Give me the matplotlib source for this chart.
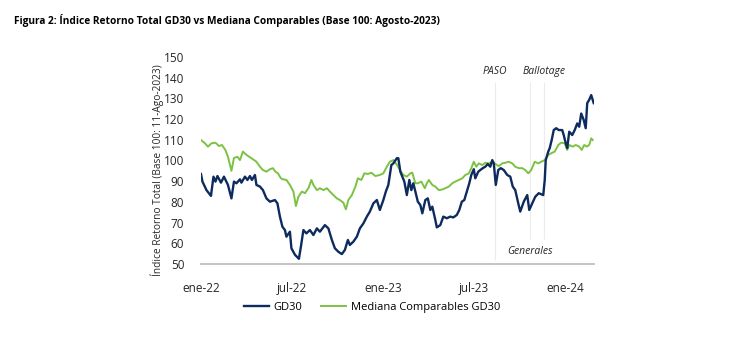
import pandas as pd
import matplotlib
matplotlib.use("Agg")
import matplotlib.pyplot as plt

plt.rcParams['font.family'] = ['Open Sans', 'DejaVu Sans']

# GD30 total return index
gd30_dates = [
    '2022-01-01', '2022-01-04', '2022-01-12', '2022-01-21', '2022-01-26', '2022-01-30',
    '2022-02-03', '2022-02-10', '2022-02-16', '2022-02-24', '2022-03-03', '2022-03-08',
    '2022-03-13', '2022-03-20', '2022-03-23', '2022-03-30', '2022-04-04', '2022-04-09',
    '2022-04-13', '2022-04-19', '2022-04-22', '2022-04-29', '2022-05-05', '2022-05-12',
    '2022-05-19', '2022-05-29', '2022-06-03', '2022-06-08', '2022-06-13', '2022-06-18',
    '2022-06-21', '2022-06-28', '2022-07-01', '2022-07-08', '2022-07-16', '2022-07-20',
    '2022-07-25', '2022-07-31', '2022-08-07', '2022-08-14', '2022-08-21', '2022-08-27',
    '2022-09-06', '2022-09-13', '2022-09-20', '2022-09-26', '2022-10-03', '2022-10-10',
    '2022-10-16', '2022-10-22', '2022-10-26', '2022-11-02', '2022-11-09', '2022-11-15',
    '2022-11-22', '2022-11-29', '2022-12-05', '2022-12-12', '2022-12-19', '2022-12-25',
    '2023-01-01', '2023-01-06', '2023-01-11', '2023-01-17', '2023-01-21', '2023-01-28',
    '2023-01-31', '2023-02-04', '2023-02-08', '2023-02-12', '2023-02-17', '2023-02-22',
    '2023-02-26', '2023-03-02', '2023-03-06', '2023-03-11', '2023-03-16', '2023-03-20',
    '2023-03-26', '2023-03-31', '2023-04-05', '2023-04-09', '2023-04-15', '2023-04-18',
    '2023-04-25', '2023-05-01', '2023-05-08', '2023-05-15', '2023-05-21', '2023-05-28',
    '2023-06-02', '2023-06-07', '2023-06-12', '2023-06-17', '2023-06-22', '2023-06-26',
    '2023-07-01', '2023-07-04', '2023-07-10', '2023-07-14', '2023-07-19', '2023-07-24',
    '2023-07-29', '2023-08-03', '2023-08-07', '2023-08-10', '2023-08-14', '2023-08-19',
    '2023-08-24', '2023-08-30', '2023-09-06', '2023-09-12', '2023-09-17', '2023-09-22',
    '2023-09-28', '2023-10-02', '2023-10-09', '2023-10-16', '2023-10-20', '2023-10-26',
    '2023-11-01', '2023-11-08', '2023-11-17', '2023-11-20', '2023-11-22', '2023-11-27',
    '2023-11-30', '2023-12-04', '2023-12-08', '2023-12-13', '2023-12-18', '2023-12-25',
    '2023-12-28', '2024-01-01', '2024-01-04', '2024-01-08', '2024-01-14', '2024-01-19',
    '2024-01-24', '2024-01-28', '2024-02-01', '2024-02-06', '2024-02-10', '2024-02-13',
    '2024-02-17', '2024-02-21', '2024-02-23', '2024-02-26',
]
gd30_vals = [
    93.5, 89.8, 85.7, 82.9, 92.2, 89.8,
    92.5, 89.3, 92.2, 88.2, 81.7, 89.8,
    89.0, 90.9, 89.3, 92.2, 90.6, 92.5,
    90.6, 93.0, 88.2, 87.4, 85.7, 81.7,
    80.1, 80.9, 79.3, 72.9, 68.0, 66.4,
    63.2, 65.6, 57.6, 54.5, 52.5, 58.4,
    66.4, 64.8, 66.4, 64.0, 67.2, 65.6,
    68.8, 67.2, 61.6, 57.6, 55.9, 54.8,
    56.8, 61.6, 59.2, 60.8, 63.2, 67.2,
    69.6, 72.9, 75.3, 79.3, 80.9, 76.1,
    80.9, 85.0, 88.2, 97.8, 98.6, 101.1,
    101.1, 94.6, 92.2, 89.8, 83.3, 90.6,
    85.7, 89.0, 85.0, 80.1, 78.5, 74.5,
    80.9, 81.7, 76.1, 77.7, 71.3, 67.7,
    68.8, 72.9, 72.1, 72.9, 72.5, 73.7,
    76.1, 80.1, 80.9, 85.0, 89.0, 93.0,
    95.8, 91.4, 94.6, 95.4, 96.3, 97.0,
    98.3, 97.0, 100.2, 98.6, 88.2, 95.4,
    96.3, 95.4, 93.0, 92.2, 87.4, 85.7,
    79.3, 75.3, 80.1, 83.3, 76.1, 79.3,
    82.5, 84.2, 83.3, 90.6, 100.2, 104.3,
    106.0, 110.0, 114.7, 115.6, 114.7, 114.7,
    112.3, 108.3, 106.0, 113.9, 112.3, 114.7,
    117.9, 116.3, 122.7, 119.6, 115.6, 127.7,
    129.3, 131.6, 130.0, 127.7,
]

# median of comparable bonds
comp_dates = [
    '2022-01-01', '2022-01-09', '2022-01-15', '2022-01-22', '2022-01-30', '2022-02-06',
    '2022-02-12', '2022-02-19', '2022-02-24', '2022-03-03', '2022-03-08', '2022-03-15',
    '2022-03-20', '2022-03-26', '2022-04-02', '2022-04-09', '2022-04-15', '2022-04-22',
    '2022-04-29', '2022-05-05', '2022-05-12', '2022-05-19', '2022-05-25', '2022-05-30',
    '2022-06-04', '2022-06-10', '2022-06-14', '2022-06-21', '2022-06-28', '2022-07-05',
    '2022-07-10', '2022-07-15', '2022-07-22', '2022-07-28', '2022-08-04', '2022-08-10',
    '2022-08-14', '2022-08-21', '2022-08-27', '2022-09-03', '2022-09-10', '2022-09-16',
    '2022-09-23', '2022-09-30', '2022-10-06', '2022-10-13', '2022-10-18', '2022-10-23',
    '2022-10-30', '2022-11-06', '2022-11-11', '2022-11-18', '2022-11-24', '2022-12-01',
    '2022-12-08', '2022-12-16', '2022-12-25', '2023-01-01', '2023-01-08', '2023-01-14',
    '2023-01-21', '2023-01-28', '2023-02-04', '2023-02-10', '2023-02-17', '2023-02-24',
    '2023-02-28', '2023-03-06', '2023-03-11', '2023-03-18', '2023-03-25', '2023-03-29',
    '2023-04-02', '2023-04-09', '2023-04-15', '2023-04-22', '2023-04-29', '2023-05-05',
    '2023-05-12', '2023-05-19', '2023-05-25', '2023-06-01', '2023-06-08', '2023-06-14',
    '2023-06-21', '2023-06-26', '2023-07-01', '2023-07-06', '2023-07-11', '2023-07-18',
    '2023-07-24', '2023-07-31', '2023-08-07', '2023-08-14', '2023-08-20', '2023-08-27',
    '2023-09-02', '2023-09-09', '2023-09-16', '2023-09-22', '2023-09-29', '2023-10-06',
    '2023-10-12', '2023-10-18', '2023-10-24', '2023-10-31', '2023-11-07', '2023-11-13',
    '2023-11-20', '2023-11-27', '2023-12-03', '2023-12-10', '2023-12-17', '2023-12-23',
    '2023-12-30', '2024-01-04', '2024-01-08', '2024-01-15', '2024-01-21', '2024-01-28',
    '2024-02-02', '2024-02-07', '2024-02-12', '2024-02-17', '2024-02-21', '2024-02-24',
]
comp_vals = [
    109.9, 108.3, 106.7, 108.3, 108.6, 107.0,
    107.5, 105.0, 101.8, 95.0, 101.2, 101.8,
    100.2, 104.3, 102.7, 101.6, 100.6, 99.4,
    97.0, 95.4, 94.6, 95.8, 96.3, 94.6,
    93.8, 91.4, 90.9, 90.6, 88.2, 85.0,
    78.0, 82.5, 85.0, 84.2, 86.6, 90.6,
    88.2, 85.7, 86.6, 85.7, 86.6, 85.0,
    83.3, 81.7, 80.9, 79.6, 76.4, 80.9,
    83.3, 87.4, 91.4, 90.6, 93.8, 93.5,
    94.1, 92.5, 93.0, 93.8, 97.0, 99.4,
    100.2, 98.0, 95.0, 93.0, 92.2, 93.8,
    94.1, 89.0, 89.0, 89.8, 86.6, 89.0,
    90.6, 88.2, 87.4, 85.7, 86.0, 86.6,
    87.4, 89.0, 89.8, 90.6, 91.4, 93.0,
    93.8, 96.3, 99.4, 97.0, 98.6, 97.8,
    98.9, 98.6, 99.4, 98.2, 97.3, 98.6,
    98.9, 99.4, 98.6, 97.0, 96.3, 96.3,
    95.4, 93.8, 95.4, 99.4, 98.6, 99.4,
    100.2, 102.7, 103.5, 104.3, 107.5, 108.6,
    108.3, 105.1, 107.5, 106.7, 107.5, 106.7,
    105.1, 107.5, 106.7, 107.5, 110.7, 109.9,
]

# election events
event_names = ['PASO', 'Generales', 'Ballotage']
event_dates = ['2023-08-13', '2023-10-22', '2023-11-19']

ytick_vals = [50, 60, 70, 80, 90, 100, 110, 120, 130, 140, 150]
xtick_dates = ['2022-01-01', '2022-07-01', '2023-01-01', '2023-07-01', '2024-01-01']
xtick_labels = ['ene-22', 'jul-22', 'ene-23', 'jul-23', 'ene-24']

navy = '#0d2b5e'
green = '#7cc242'

fig = plt.figure(figsize=(7.3, 3.37), dpi=100)
ax = fig.add_axes([0.2753, 0.2166, 0.538, 0.6143])

gd_x = pd.to_datetime(gd30_dates)
cp_x = pd.to_datetime(comp_dates)
ax.plot(cp_x, comp_vals, color=green, lw=1.4, label='Mediana Comparables GD30', zorder=3)
ax.plot(gd_x, gd30_vals, color=navy, lw=1.7, label='GD30', zorder=4)

# vertical markers for elections
ev = pd.to_datetime(event_dates)
ax.vlines(ev[0], 52, 138, color='#ececec', lw=0.8, zorder=1)
ax.vlines(ev[1], 62, 138, color='#ececec', lw=0.8, zorder=1)
ax.vlines(ev[2], 62, 138, color='#ececec', lw=0.8, zorder=1)
ax.text(ev[0], 143, event_names[0], style='italic', fontsize=7.5, ha='center', va='center', color='#262626')
ax.text(ev[1], 55.8, event_names[1], style='italic', fontsize=7.5, ha='center', va='center', color='#262626')
ax.text(ev[2], 143, event_names[2], style='italic', fontsize=7.5, ha='center', va='center', color='#262626')

ax.set_ylim(50, 150)
ax.set_xlim(gd_x[0], gd_x[-1])
ax.set_yticks(ytick_vals)
ax.set_xticks(pd.to_datetime(xtick_dates))
ax.set_xticklabels(xtick_labels)
ax.tick_params(axis='both', length=0, labelsize=8.5, colors='#262626')
ax.tick_params(axis='y', pad=12)
ax.tick_params(axis='x', pad=13)
for s in ['top', 'right', 'left']:
    ax.spines[s].set_visible(False)
ax.spines['bottom'].set_color('#bfbfbf')
ax.spines['bottom'].set_linewidth(1.3)

fig.text(0.215, 0.496, 'Índice Retorno Total (Base 100: 11-Ago-2023)', rotation=90,
         ha='center', va='center', fontsize=7.3, color='#262626')

fig.text(0.019, 0.94, 'Figura 2: Índice Retorno Total GD30 vs Mediana Comparables (Base 100: Agosto-2023)',
         fontsize=7.3, fontweight='bold', ha='left', va='center')

handles, labels = ax.get_legend_handles_labels()
fig.legend(handles[::-1], labels[::-1], loc='center', bbox_to_anchor=(0.51, 0.089), ncol=2,
           frameon=False, fontsize=8, handlelength=2.2, handletextpad=0.45, columnspacing=1.7)

fig.savefig('out.png', dpi=100, facecolor='white')
